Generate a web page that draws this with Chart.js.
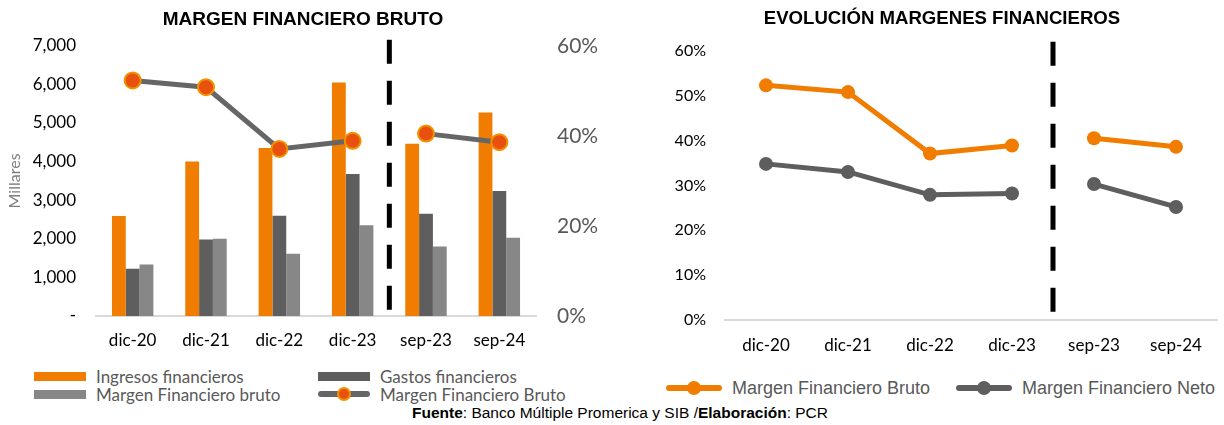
<!DOCTYPE html>
<html>
<head>
<meta charset="utf-8">
<script src="https://cdn.jsdelivr.net/npm/chart.js@4.4.1/dist/chart.umd.min.js"></script>
<style>
  html, body { margin:0; padding:0; background:#fff; }
  body { width:1224px; height:425px; position:relative; overflow:hidden; }
  .wrap { position:absolute; }
  .leg { position:absolute; font-family:Lato, 'Open Sans', sans-serif; color:#595959; white-space:nowrap; }
  .legR { position:absolute; font-family:'Liberation Sans', Arial, sans-serif; color:#595959; white-space:nowrap; }
  .item { position:absolute; display:flex; align-items:center; }
  #foot { position:absolute; left:0; width:1240px; top:404px; text-align:center; font-family:'Liberation Sans', Arial, sans-serif; font-size:15.5px; color:#000; }
</style>
</head>
<body>
<div class="wrap" style="left:0;top:0;width:606px;height:362px"><canvas id="c1"></canvas></div>
<div class="wrap" style="left:662px;top:0;width:562px;height:365px"><canvas id="c2"></canvas></div>
<div id="legL"></div>
<div id="legR"></div>
<div id="foot"><b>Fuente</b>: Banco Múltiple Promerica y SIB /<b>Elaboración</b>: PCR</div>
<script>
// ---------- DATA ----------
const categories = ['dic-20', 'dic-21', 'dic-22', 'dic-23', 'sep-23', 'sep-24'];
const ingresosFinancieros = [2590, 4000, 4350, 6050, 4460, 5270];
const gastosFinancieros   = [1225, 1985, 2600, 3680, 2650, 3240];
const margenBrutoMonto    = [1335, 2000, 1610, 2350, 1800, 2030];
const margenBrutoPct      = [0.523, 0.508, 0.371, 0.389, 0.405, 0.386];
const margenNetoPct       = [0.348, 0.330, 0.279, 0.282, 0.303, 0.252];
const leftTicksMillares   = [0, 1000, 2000, 3000, 4000, 5000, 6000, 7000];
const leftTicksPct        = [0, 0.2, 0.4, 0.6];
const rightTicksPct       = [0, 0.1, 0.2, 0.3, 0.4, 0.5, 0.6];
const breakAfter = 'dic-23'; // periodo tras el cual va la línea discontinua

// ---------- STYLE ----------
const ORANGE = '#F07D00', DARK = '#5E5E5E', LIGHT = '#878787', LINEGRAY = '#666666';
const MARK_FILL = '#E8500E', MARK_BORDER = '#F39200';
const tickFont = { family: 'Lato', size: 17 };
const breakIdx = categories.indexOf(breakAfter);
const gapSeg = { borderColor: ctx => ctx.p0DataIndex === breakIdx ? 'rgba(0,0,0,0)' : undefined };

const dashPlugin = {
  id: 'dashDivider',
  afterDatasetsDraw(chart, args, opts) {
    const x = chart.scales.x;
    const px = (x.getPixelForValue(breakIdx) + x.getPixelForValue(breakIdx + 1)) / 2;
    const c = chart.ctx;
    c.save();
    c.strokeStyle = '#000';
    c.lineWidth = 5;
    c.setLineDash([24, 17]);
    c.beginPath();
    c.moveTo(px, chart.chartArea.top - opts.over);
    c.lineTo(px, chart.chartArea.bottom);
    c.stroke();
    c.restore();
  }
};

const titleOpts = (text, size) => ({
  display: true, text,
  color: '#000',
  font: { family: 'Liberation Sans', weight: 'bold', size: size }
});

// ---------- LEFT CHART ----------
const c1 = new Chart(document.getElementById('c1'), {
  type: 'bar',
  data: {
    labels: categories,
    datasets: [
      { label: 'Ingresos financieros', data: ingresosFinancieros, backgroundColor: ORANGE, yAxisID: 'y', order: 1 },
      { label: 'Gastos financieros', data: gastosFinancieros, backgroundColor: DARK, yAxisID: 'y', order: 1 },
      { label: 'Margen Financiero bruto', data: margenBrutoMonto, backgroundColor: LIGHT, yAxisID: 'y', order: 1 },
      { type: 'line', label: 'Margen Financiero Bruto', data: margenBrutoPct, yAxisID: 'y1', order: 0,
        borderColor: LINEGRAY, borderWidth: 5, pointRadius: 8, pointHoverRadius: 8,
        pointBackgroundColor: MARK_FILL, pointBorderColor: MARK_BORDER, pointBorderWidth: 2,
        segment: gapSeg, tension: 0 }
    ]
  },
  options: {
    responsive: true, maintainAspectRatio: false, animation: false,
    layout: { padding: { top: 0, bottom: 0, left: 0, right: 0 } },
    datasets: { bar: { categoryPercentage: 0.565, barPercentage: 1.0 } },
    plugins: {
      legend: { display: false }, tooltip: { enabled: false },
      title: { ...titleOpts('MARGEN FINANCIERO BRUTO', 19), padding: { top: 8, bottom: 15 } },
      dashDivider: { over: 6 }
    },
    scales: {
      x: {
        grid: { display: false, drawTicks: false },
        border: { display: true, color: '#D9D9D9', width: 2 },
        ticks: { color: '#000', font: tickFont, padding: 14, maxRotation: 0 },
        afterFit: s => { s.height = 46; }
      },
      y: {
        position: 'left', min: 0, max: 7000,
        grid: { display: false, drawTicks: false }, border: { display: false },
        afterBuildTicks: s => { s.ticks = leftTicksMillares.map(v => ({ value: v })); },
        ticks: { color: '#000', font: tickFont, padding: 20,
          callback: v => v === 0 ? '-' : v.toLocaleString('en-US') },
        title: { display: true, text: 'Millares', color: '#7F7F7F', font: { family: 'Lato', size: 16 }, padding: { top: 5, bottom: 0 } },
        afterFit: s => { s.width = 96; }
      },
      y1: {
        position: 'right', min: 0, max: 0.6,
        grid: { display: false, drawTicks: false }, border: { display: false },
        afterBuildTicks: s => { s.ticks = leftTicksPct.map(v => ({ value: v })); },
        ticks: { color: '#595959', font: { family: 'Lato', size: 21 }, padding: 21,
          callback: v => Math.round(v * 100) + '%' },
        afterFit: s => { s.width = 70; }
      }
    }
  },
  plugins: [dashPlugin]
});

// ---------- RIGHT CHART ----------
const c2 = new Chart(document.getElementById('c2'), {
  type: 'line',
  data: {
    labels: categories,
    datasets: [
      { label: 'Margen Financiero Bruto', data: margenBrutoPct, borderColor: ORANGE, backgroundColor: ORANGE,
        borderWidth: 5, pointRadius: 7, pointHoverRadius: 7, pointBorderWidth: 0, segment: gapSeg, tension: 0 },
      { label: 'Margen Financiero Neto', data: margenNetoPct, borderColor: DARK, backgroundColor: DARK,
        borderWidth: 5, pointRadius: 7, pointHoverRadius: 7, pointBorderWidth: 0, segment: gapSeg, tension: 0 }
    ]
  },
  options: {
    responsive: true, maintainAspectRatio: false, animation: false,
    layout: { padding: { top: 0, bottom: 0, left: 0, right: 2 } },
    plugins: {
      legend: { display: false }, tooltip: { enabled: false },
      title: { ...titleOpts('EVOLUCIÓN MARGENES FINANCIEROS', 18.6), padding: { top: 8, bottom: 20.5 } },
      dashDivider: { over: 9 }
    },
    scales: {
      x: {
        offset: true,
        grid: { display: false, drawTicks: false, offset: true },
        border: { display: true, color: '#D9D9D9', width: 2 },
        ticks: { color: '#000', font: tickFont, padding: 15, maxRotation: 0 },
        afterFit: s => { s.height = 45; }
      },
      y: {
        min: 0, max: 0.6,
        grid: { display: false, drawTicks: false }, border: { display: false },
        afterBuildTicks: s => { s.ticks = rightTicksPct.map(v => ({ value: v })); },
        ticks: { color: '#000', font: { family: 'Lato', size: 16 }, padding: 19,
          callback: v => Math.round(v * 100) + '%' },
        afterFit: s => { s.width = 63; }
      }
    }
  },
  plugins: [dashPlugin]
});

// ---------- HTML LEGENDS (built from the datasets) ----------
function swatchFor(ds, asLine, w) {
  const el = document.createElement('span');
  el.style.position = 'relative';
  el.style.display = 'inline-block';
  if (ds.type === 'line' || asLine) {
    el.style.width = w + 'px'; el.style.height = '18px';
    const ln = document.createElement('span');
    Object.assign(ln.style, { position:'absolute', left:'0', top:'6px', width: w + 'px', height:'6px',
      borderRadius:'3px', background: ds.borderColor });
    const dot = document.createElement('span');
    const fill = ds.pointBackgroundColor || ds.borderColor;
    const bc = ds.pointBorderColor || fill;
    Object.assign(dot.style, { position:'absolute', left: (w / 2 - 7) + 'px', top:'2px', width:'10px', height:'10px',
      borderRadius:'50%', background: fill, border: '2px solid ' + bc });
    el.appendChild(ln); el.appendChild(dot);
  } else {
    Object.assign(el.style, { width: w + 'px', height:'9px', background: ds.backgroundColor });
  }
  return el;
}
(function () {
  const legL = document.getElementById('legL');
  const posL = [[34, 367], [318, 367], [34, 385], [318, 385]];
  c1.data.datasets.forEach((ds, i) => {
    const it = document.createElement('div');
    it.className = 'leg item';
    Object.assign(it.style, { left: posL[i][0] + 'px', top: posL[i][1] + 'px', height: '18px', fontSize: '17px' });
    const sw = swatchFor(ds, false, 52);
    sw.style.marginRight = '10px';
    it.appendChild(sw);
    const t = document.createElement('span'); t.textContent = ds.label; it.appendChild(t);
    legL.appendChild(it);
  });
  const legR = document.getElementById('legR');
  const posR = [[666, 377], [956, 377]];
  c2.data.datasets.forEach((ds, i) => {
    const it = document.createElement('div');
    it.className = 'legR item';
    Object.assign(it.style, { left: posR[i][0] + 'px', top: posR[i][1] + 'px', height: '22px', fontSize: '18px' });
    const sw = swatchFor(ds, true, 56);
    sw.style.marginRight = '10px';
    it.appendChild(sw);
    const t = document.createElement('span'); t.textContent = ds.label; it.appendChild(t);
    legR.appendChild(it);
  });
})();
</script>
</body>
</html>
